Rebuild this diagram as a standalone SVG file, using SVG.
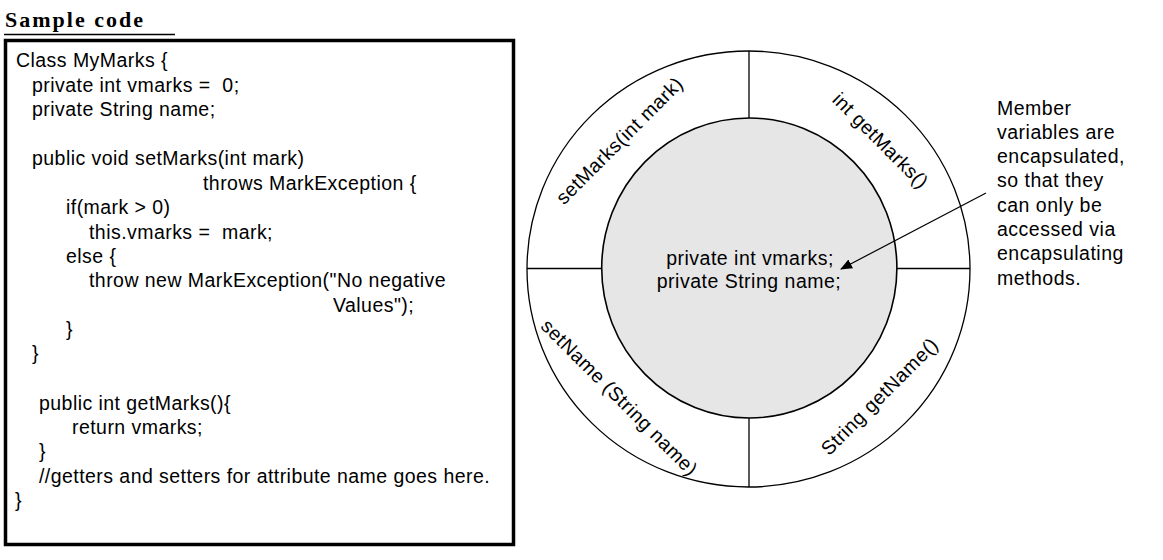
<svg xmlns="http://www.w3.org/2000/svg" width="1163" height="560" viewBox="0 0 1163 560">
<style>
  .code { font-family: "Liberation Sans", Arial, sans-serif; font-size: 19.5px; letter-spacing: 0.45px; fill: #000; white-space: pre; }
  .lbl { font-family: "Liberation Sans", Arial, sans-serif; font-size: 19.5px; letter-spacing: 0.5px; fill: #000; text-anchor: middle; }
  .note { font-family: "Liberation Sans", Arial, sans-serif; font-size: 19.5px; letter-spacing: 0.5px; fill: #000; }
  .title { font-family: "Liberation Serif", "Times New Roman", serif; font-size: 22px; font-weight: bold; fill: #000; }
  .ln { stroke: #000; stroke-width: 1.3; fill: none; }
</style>
<defs>
  <marker id="arrow" viewBox="0 0 12 10" refX="11" refY="5" markerWidth="12" markerHeight="10" markerUnits="userSpaceOnUse" orient="auto">
    <path d="M0,0 L12,5 L0,10 Z" fill="#000"/>
  </marker>
</defs>
<rect width="1163" height="560" fill="#fff"/>

<g id="title">
  <text class="title" x="5" y="27" textLength="138" lengthAdjust="spacing">Sample code</text>
  <line x1="4" y1="34.5" x2="175" y2="34.5" stroke="#000" stroke-width="1.3"/>
</g>

<g id="code-box">
  <rect x="5.5" y="40.5" width="508" height="504" fill="#fff" stroke="#000" stroke-width="3.5"/>
  <text class="code" x="16" y="67">Class MyMarks {</text>
  <text class="code" x="32" y="91.5" xml:space="preserve">private int vmarks =  0;</text>
  <text class="code" x="32" y="116">private String name;</text>
  <text class="code" x="32" y="165">public void setMarks(int mark)</text>
  <text class="code" x="203" y="190">throws MarkException {</text>
  <text class="code" x="66" y="214">if(mark &gt; 0)</text>
  <text class="code" x="89" y="239" xml:space="preserve">this.vmarks =  mark;</text>
  <text class="code" x="66" y="263">else {</text>
  <text class="code" x="89" y="287">throw new MarkException("No negative</text>
  <text class="code" x="333" y="312">Values");</text>
  <text class="code" x="66" y="336">}</text>
  <text class="code" x="32" y="360">}</text>
  <text class="code" x="39" y="410">public int getMarks(){</text>
  <text class="code" x="72" y="434">return vmarks;</text>
  <text class="code" x="39" y="458">}</text>
  <text class="code" x="39" y="483">//getters and setters for attribute name goes here.</text>
  <text class="code" x="15" y="507">}</text>
</g>

<g id="outer-ring">
  <ellipse cx="748.5" cy="269" rx="221.5" ry="218" fill="#fff" stroke="#000" stroke-width="1.3"/>
  <line class="ln" x1="749" y1="51" x2="749" y2="119"/>
  <line class="ln" x1="749" y1="417" x2="749" y2="487"/>
  <line class="ln" x1="527" y1="268.5" x2="602" y2="268.5"/>
  <line class="ln" x1="896" y1="268.5" x2="970" y2="268.5"/>
</g>

<g id="inner-circle">
  <ellipse cx="749.3" cy="268" rx="147.6" ry="150" fill="#e6e6e6" stroke="#000" stroke-width="1.6"/>
  <text class="lbl" x="750" y="265">private int vmarks;</text>
  <text class="lbl" x="749" y="288">private String name;</text>
</g>

<g id="method-setMarks">
  <text class="lbl" transform="translate(620,141) rotate(-45)" x="0" y="6">setMarks(int mark)</text>
</g>
<g id="method-getMarks">
  <text class="lbl" transform="translate(880,141) rotate(45)" x="0" y="6">int getMarks()</text>
</g>
<g id="method-setName">
  <text class="lbl" transform="translate(619,398) rotate(45)" x="0" y="6">setName (String name)</text>
</g>
<g id="method-getName">
  <text class="lbl" transform="translate(880,397) rotate(-45)" x="0" y="6">String getName()</text>
</g>

<g id="note">
  <text class="note" x="997" y="115">Member</text>
  <text class="note" x="997" y="139">variables are</text>
  <text class="note" x="997" y="163">encapsulated,</text>
  <text class="note" x="997" y="187">so that they</text>
  <text class="note" x="997" y="212">can only be</text>
  <text class="note" x="997" y="236">accessed via</text>
  <text class="note" x="997" y="260">encapsulating</text>
  <text class="note" x="997" y="285">methods.</text>
</g>

<g id="connectors">
  <line x1="986" y1="193" x2="841" y2="269" stroke="#000" stroke-width="1.2" marker-end="url(#arrow)"/>
</g>
</svg>
